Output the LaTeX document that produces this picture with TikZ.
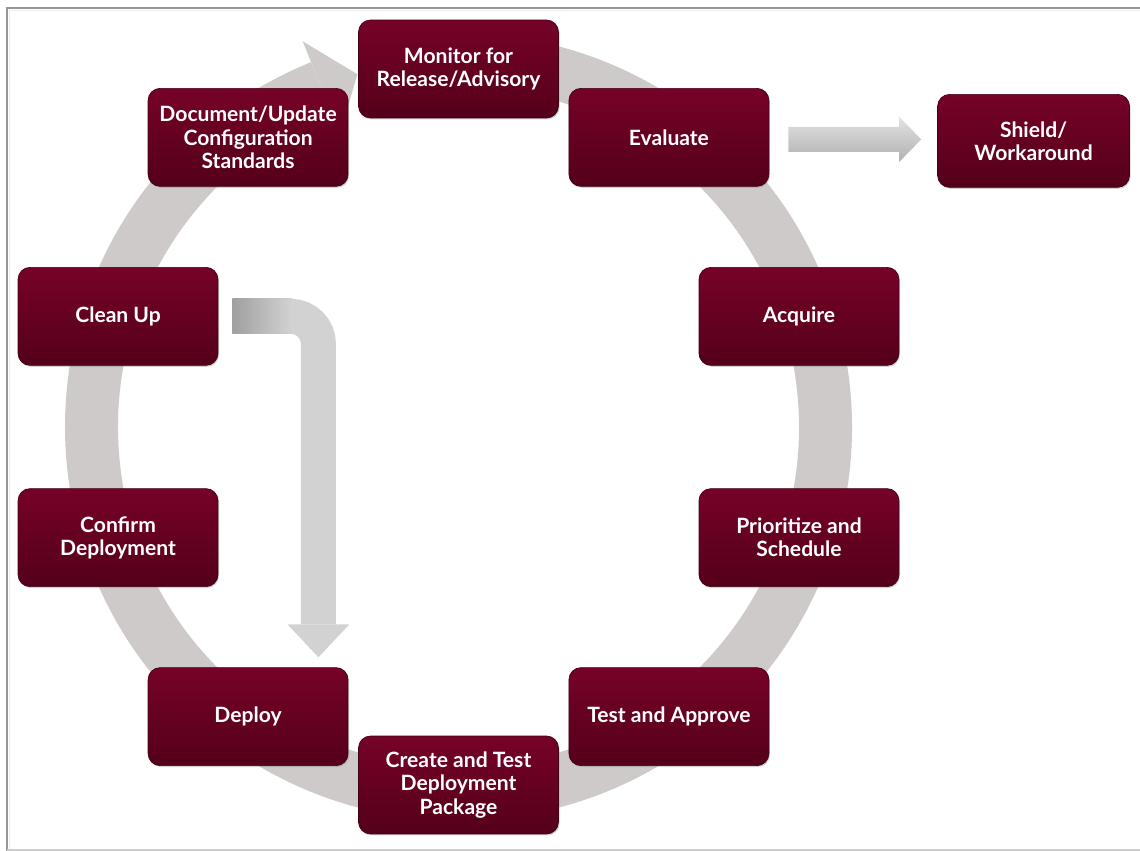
\documentclass[tikz,border=0pt]{standalone}
\usepackage{fontspec}
\setmainfont{Lato}
\usetikzlibrary{positioning,calc,shadows}

\definecolor{boxtop}{RGB}{118,2,40}
\definecolor{boxbot}{RGB}{84,0,26}
\definecolor{boxedge}{RGB}{66,0,18}
\definecolor{ringgray}{RGB}{206,202,202}
\definecolor{framegray}{RGB}{150,150,150}

\tikzset{
  stepbox/.style={rounded corners=0.24cm, minimum width=4cm, minimum height=1.96cm,
    top color=boxtop, bottom color=boxbot, draw=boxedge, line width=0.4pt,
    text=white, align=center, inner sep=2pt,
    font=\bfseries\fontsize{12}{13.2}\selectfont,
    drop shadow={shadow xshift=0.6pt, shadow yshift=-0.8pt, opacity=0.35}},
}

\begin{document}
\begin{tikzpicture}[x=0.02cm,y=0.02cm]
      \useasboundingbox (0,0) rectangle (1140,-851);
      % frame
      \draw[framegray, line width=1.1pt] (1140,-8) -- (7,-8) -- (7,-851);
      \draw[gray!15, line width=1pt] (1140,-10.5) -- (9.5,-10.5) -- (9.5,-851);
      \draw[gray!40, line width=1pt] (7,-850) -- (1140,-850);
      \begin{scope}[shift={(458.5,-427)}]
        % the cycle
        \draw[ringgray, line width=1.06cm] (96:367) arc[start angle=96, end angle=-248, radius=367];
        \fill[ringgray] (112:316) -- (112:416) -- (106:367) -- cycle;
        \draw
          (90:358) node[stepbox] (monitor){Monitor for\\Release/Advisory}
          (54:358) node[stepbox] (evaluate){Evaluate}
          (18:358) node[stepbox] (acquire){Acquire}
          (-18:358) node[stepbox] (prioritize){Prioritize and\\Schedule}
          (-54:358) node[stepbox] (testapprove){Test and Approve}
          (-90:358) node[stepbox] (createpkg){Create and Test\\Deployment\\Package}
          (-126:358) node[stepbox] (deploy){Deploy}
          (-162:358) node[stepbox] (confirm){Confirm\\Deployment}
          (162:358) node[stepbox] (cleanup){Clean Up}
          (126:358) node[stepbox] (docupdate){Document/Update\\Configuration\\Standards};
      \end{scope}
      \node[stepbox, minimum width=3.84cm, minimum height=1.86cm,
        right=3.36cm of evaluate, yshift=-2pt] (shield){Shield/\\Workaround};
      % evaluate -> shield
      \coordinate (evalstart) at ($(evaluate.east)+(19,-2)$);
      \coordinate (evaltip) at ($(evalstart -| shield.west)+(-16,0)$);
      \shade[top color=gray!22, bottom color=gray!62]
        ($(evalstart)+(0,12.5)$) -- ($(evaltip)+(-22,12.5)$) -- ($(evaltip)+(-22,22.5)$)
        -- (evaltip) -- ($(evaltip)+(-22,-22.5)$) -- ($(evaltip)+(-22,-12.5)$)
        -- ($(evalstart)+(0,-12.5)$) -- cycle;
      % clean up -> deploy
      \coordinate (bendstart) at ($(cleanup.east)+(14,0)$);
      \coordinate (bendtip) at ($(deploy.north east)+(-30,10)$);
      \draw[gray!35, line width=0.7cm, rounded corners=0.55cm]
        (bendstart) -- (bendstart -| bendtip) -- ($(bendtip)+(0,33)$);
      \shade[left color=gray!75, right color=gray!35]
        ($(bendstart)+(0,17.5)$) rectangle ($(bendstart)+(60,-17.5)$);
      \fill[gray!35] ($(bendtip)+(-31,33)$) -- ($(bendtip)+(31,33)$) -- (bendtip) -- cycle;
    \end{tikzpicture}
\end{document}
